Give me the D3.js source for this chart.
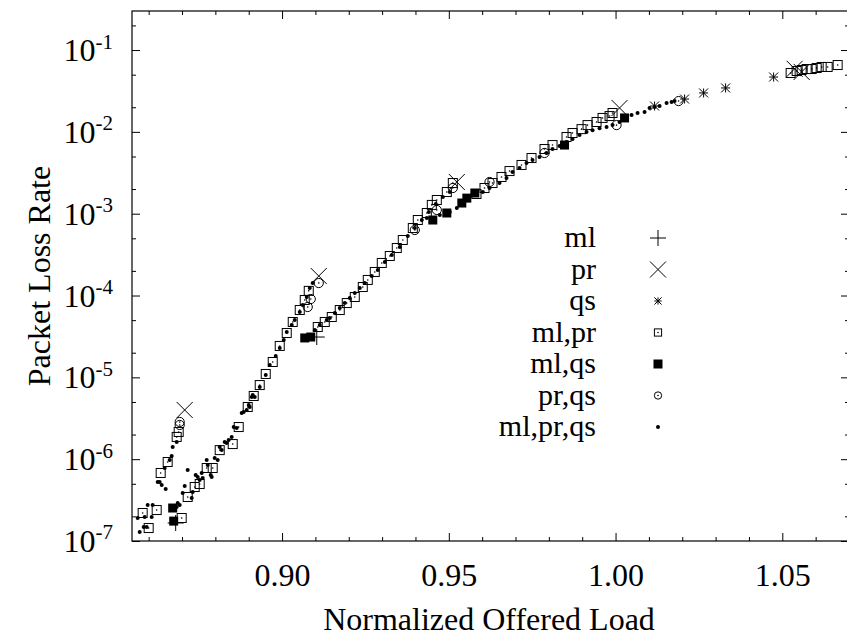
<!DOCTYPE html>
<html>
<head>
<meta charset="utf-8">
<script src="https://cdn.jsdelivr.net/npm/d3@7"></script>
<style>
  body { margin: 0; background: #fff; }
  svg { display: block; }
</style>
</head>
<body>
<div id="chart"></div>
<script>
const width = 847;
const height = 637;
const frame = { left: 132, right: 849, top: 11, bottom: 541 };
const fontSize = 32;
const keyFontSize = 30;
const serif = "Liberation Serif, Times New Roman, Times, DejaVu Serif, serif";

// axis ticks
const xMajor = [0.9, 0.95, 1.0, 1.05];
const xMinor = [0.86, 0.87, 0.88, 0.89, 0.91, 0.92, 0.93, 0.94, 0.96, 0.97, 0.98, 0.99, 1.01, 1.02, 1.03, 1.04, 1.06];
const xLabels = ["0.90", "0.95", "1.00", "1.05"];
const yMajor = [1e-7, 1e-6, 1e-5, 1e-4, 1e-3, 1e-2, 1e-1];
const yExp = ["-7", "-6", "-5", "-4", "-3", "-2", "-1"];
const yMinor = [2e-7, 5e-7, 2e-6, 5e-6, 2e-5, 5e-5, 2e-4, 5e-4, 2e-3, 5e-3, 2e-2, 5e-2, 2e-1];

// series, [offered load, loss rate]
const ml = [[0.8681, 1.66e-7], [0.9104, 3.11e-5]];
const pr = [[0.8708, 3.99e-6], [0.911, 1.73e-4], [0.9524, 2.44e-3], [1.0012, 1.96e-2], [1.0537, 5.9e-2], [1.0558, 5.4e-2]];
const qs = [[1.0117, 2.07e-2], [1.0207, 2.52e-2], [1.0264, 2.99e-2], [1.033, 3.44e-2], [1.0474, 4.68e-2]];
const mlPr = [
  [0.8582, 2.2e-7], [0.86, 1.44e-7], [0.8624, 2.39e-7], [0.8636, 6.78e-7], [0.8657, 9.23e-7], [0.8684, 1.87e-6], [0.869, 2.15e-6],
  [0.8699, 1.91e-7], [0.8717, 3.45e-7], [0.8738, 4.57e-7], [0.8753, 4.97e-7], [0.8774, 7.8e-7], [0.8792, 7.8e-7], [0.8813, 1.29e-6],
  [0.8852, 1.53e-6], [0.887, 2.47e-6], [0.8897, 4.34e-6],
  [0.8915, 5.92e-6], [0.8933, 8.05e-6], [0.8951, 1.1e-5], [0.8972, 1.54e-5], [0.8993, 2.42e-5], [0.9014, 3.48e-5],
  [0.9032, 4.75e-5], [0.9053, 6.65e-5], [0.9068, 8.81e-5], [0.908, 1.14e-4],
  [0.9107, 4.12e-5], [0.9128, 4.75e-5], [0.9149, 5.46e-5], [0.9173, 6.65e-5], [0.9194, 8.09e-5], [0.9218, 9.59e-5],
  [0.9242, 1.27e-4], [0.9257, 1.55e-4], [0.9278, 1.94e-4], [0.9299, 2.5e-4], [0.9323, 3.04e-4], [0.9344, 3.81e-4],
  [0.9362, 4.77e-4], [0.9392, 6.68e-4], [0.9407, 8.37e-4], [0.9434, 1.02e-3], [0.9449, 1.28e-3], [0.9464, 1.47e-3],
  [0.9494, 1.84e-3], [0.9512, 2.37e-3],
  [0.9583, 1.74e-3], [0.9607, 2.06e-3], [0.9631, 2.37e-3], [0.9658, 2.81e-3], [0.9682, 3.32e-3], [0.9718, 3.94e-3],
  [0.9748, 4.79e-3], [0.9787, 6.17e-3], [0.9811, 6.9e-3], [0.9853, 8.65e-3], [0.9871, 9.68e-3], [0.9898, 1.08e-2],
  [0.9916, 1.21e-2], [0.9943, 1.32e-2], [0.9961, 1.48e-2], [0.9982, 1.56e-2], [0.9991, 1.7e-2],
  [1.0525, 5.24e-2], [1.0543, 5.54e-2], [1.0558, 5.7e-2], [1.0573, 5.86e-2], [1.0588, 5.86e-2], [1.0603, 6.03e-2],
  [1.0618, 6.21e-2], [1.0636, 6.21e-2], [1.0666, 6.56e-2]
];
const mlQs = [[0.8672, 2.53e-7], [0.8675, 1.75e-7], [0.9068, 3.03e-5], [0.9086, 3.11e-5], [0.9452, 8.37e-4], [0.9494, 1.02e-3],
  [0.9539, 1.35e-3], [0.9554, 1.55e-3], [0.9578, 1.79e-3], [0.9847, 6.9e-3], [1.0027, 1.48e-2]];
const prQs = [[0.8693, 2.85e-6], [0.8693, 2.62e-6], [0.9077, 7.24e-5], [0.9086, 9.06e-5], [0.911, 1.42e-4], [0.9398, 6.32e-4],
  [0.9464, 1.11e-3], [0.9512, 2.06e-3], [0.9622, 2.44e-3], [0.9787, 5.52e-3], [1.0003, 1.21e-2], [1.0189, 2.38e-2]];
const mlPrQs = [
  [0.8567, 1.91e-7], [0.8573, 1.29e-7], [0.8585, 1.48e-7], [0.8588, 1.96e-7], [0.8594, 1.48e-7], [0.8597, 2.75e-7], [0.8609, 1.96e-7],
  [0.8612, 2.75e-7], [0.8627, 5.26e-7], [0.8633, 5.26e-7], [0.8639, 4.83e-7], [0.8651, 4.32e-7], [0.8648, 7.8e-7],
  [0.8663, 9.77e-7], [0.8669, 1.09e-6], [0.8672, 1.41e-6], [0.8684, 1.62e-6],
  [0.8684, 2.6e-7], [0.8687, 2.91e-7], [0.8693, 2.75e-7], [0.8702, 3.86e-7], [0.8708, 4.7e-7], [0.8717, 7.38e-7],
  [0.8729, 3.35e-7], [0.8732, 3.97e-7], [0.8741, 6.41e-7], [0.8747, 6.05e-7], [0.8753, 5.56e-7], [0.8759, 6.78e-7],
  [0.8762, 5.89e-7], [0.8774, 9.77e-7], [0.8777, 8.49e-7], [0.8786, 6.41e-7], [0.8789, 6.05e-7], [0.8798, 1.03e-6],
  [0.8807, 9.77e-7], [0.8813, 1.41e-6], [0.8819, 1.29e-6], [0.8828, 1.62e-6], [0.8834, 1.58e-6], [0.884, 1.71e-6],
  [0.8849, 1.87e-6], [0.8855, 2.47e-6], [0.8864, 2.4e-6], [0.8879, 3.66e-6], [0.8885, 3.77e-6], [0.8894, 3.99e-6],
  [0.89, 4.59e-6], [0.8909, 5.75e-6], [0.8912, 6.09e-6],
  [0.8903, 4.34e-6], [0.8918, 5.75e-6], [0.8933, 7.62e-6], [0.8951, 1.07e-5], [0.8963, 1.42e-5], [0.8981, 1.82e-5],
  [0.8993, 2.28e-5], [0.9005, 2.86e-5], [0.9014, 3.58e-5], [0.9029, 4.36e-5], [0.9038, 5.02e-5], [0.9053, 6.28e-5],
  [0.9062, 7.66e-5], [0.9074, 9.59e-5], [0.9083, 1.24e-4], [0.9092, 1.42e-4],
  [0.9098, 3.79e-5], [0.9113, 4.36e-5], [0.9134, 5.02e-5], [0.9143, 5.31e-5], [0.9158, 6.11e-5], [0.9173, 7.03e-5],
  [0.9188, 8.09e-5], [0.9203, 9.33e-5], [0.9218, 1.07e-4], [0.9233, 1.24e-4], [0.9248, 1.42e-4], [0.9269, 1.73e-4],
  [0.9287, 2.05e-4], [0.9308, 2.57e-4], [0.9329, 3.13e-4], [0.9353, 3.92e-4], [0.9377, 5.33e-4], [0.9398, 6.68e-4],
  [0.9419, 8.37e-4], [0.944, 1.05e-3], [0.9461, 1.31e-3], [0.9482, 1.6e-3], [0.9503, 1.84e-3],
  [0.9434, 8.85e-4], [0.9473, 9.64e-4], [0.9503, 1.05e-3], [0.9524, 1.17e-3], [0.9545, 1.35e-3], [0.9563, 1.6e-3],
  [0.9602, 1.84e-3], [0.9622, 2.06e-3], [0.9652, 2.37e-3], [0.9673, 2.73e-3], [0.9691, 3.23e-3], [0.9712, 3.61e-3],
  [0.9733, 4.16e-3], [0.9751, 4.53e-3], [0.9772, 4.93e-3], [0.9793, 5.52e-3], [0.9811, 6.17e-3], [0.9832, 6.71e-3],
  [0.9853, 7.51e-3], [0.9871, 8.18e-3], [0.9892, 9.15e-3], [0.9913, 9.96e-3], [0.9931, 1.05e-2], [0.9952, 1.11e-2],
  [0.9973, 1.15e-2], [0.9991, 1.21e-2], [1.0012, 1.32e-2], [1.003, 1.44e-2], [1.0048, 1.61e-2], [1.0066, 1.7e-2],
  [1.0087, 1.75e-2], [1.0102, 1.96e-2], [1.0117, 2.01e-2], [1.0132, 2.07e-2], [1.0153, 2.25e-2], [1.0168, 2.32e-2],
  [1.0177, 2.38e-2]
];

const seriesNames = ["ml", "pr", "qs", "ml,pr", "ml,qs", "pr,qs", "ml,pr,qs"];
const seriesData = [ml, pr, qs, mlPr, mlQs, prQs, mlPrQs];
const seriesMarks = ["plus", "cross", "star", "box", "fbox", "circ", "dot"];

const xScale = d3.scaleLinear().domain([0.855, 1.07]).range([frame.left, frame.right]);
const yScale = d3.scaleLog().domain([1e-7, 0.3]).range([frame.bottom, frame.top]);

const svg = d3.select("#chart").append("svg")
  .attr("width", width)
  .attr("height", height)
  .attr("font-family", serif);

// draws one marker at 0,0 into group g
function drawMark(g, kind, s) {
  const k = s || 1;
  if (kind === "plus") {
    g.append("path").attr("d", `M${-8 * k},0H${8 * k}M0,${-8 * k}V${8 * k}`)
      .attr("stroke", "#000").attr("fill", "none");
  } else if (kind === "cross") {
    g.append("path").attr("d", `M${-8 * k},${-8 * k}L${8 * k},${8 * k}M${-8 * k},${8 * k}L${8 * k},${-8 * k}`)
      .attr("stroke", "#000").attr("fill", "none");
  } else if (kind === "star") {
    const a = 4.5 * k;
    g.append("path").attr("d", `M${-a},0H${a}M0,${-a}V${a}M${-a},${-a}L${a},${a}M${-a},${a}L${a},${-a}`)
      .attr("stroke", "#000").attr("fill", "none");
  } else if (kind === "box") {
    g.append("rect").attr("x", -4.5 * k).attr("y", -4.5 * k).attr("width", 9 * k).attr("height", 9 * k)
      .attr("stroke", "#000").attr("fill", "none");
    g.append("circle").attr("r", 0.8).attr("fill", "#000");
  } else if (kind === "fbox") {
    g.append("rect").attr("x", -4.5 * k).attr("y", -4.5 * k).attr("width", 9 * k).attr("height", 9 * k)
      .attr("fill", "#000");
  } else if (kind === "circ") {
    g.append("circle").attr("r", 4.6 * k).attr("stroke", "#000").attr("fill", "none");
    g.append("circle").attr("r", 0.8).attr("fill", "#000");
  } else {
    g.append("circle").attr("r", 2 * k).attr("fill", "#000");
  }
}

// ticks on all four sides, pointing in
const axisG = svg.append("g");
const addAxis = (axis, tx, ty, cls) => {
  axisG.append("g").attr("class", cls)
    .attr("transform", `translate(${tx},${ty})`)
    .call(axis)
    .attr("font-family", serif)
    .attr("font-size", fontSize)
    .call((g) => g.select(".domain").remove())
    .call((g) => g.selectAll(".tick line").attr("stroke", "#000"))
    .call((g) => g.selectAll(".tick text").attr("fill", "#000"));
};

addAxis(d3.axisBottom(xScale).tickValues(xMajor).tickSizeInner(-8).tickSizeOuter(0)
  .tickPadding(22).tickFormat((d, i) => xLabels[i]), 0, frame.bottom, "x-major");
addAxis(d3.axisBottom(xScale).tickValues(xMinor).tickSizeInner(-4).tickSizeOuter(0).tickFormat(""), 0, frame.bottom, "x-minor");
addAxis(d3.axisTop(xScale).tickValues(xMajor).tickSizeInner(-8).tickSizeOuter(0).tickFormat(""), 0, frame.top, "x-top");
addAxis(d3.axisTop(xScale).tickValues(xMinor).tickSizeInner(-4).tickSizeOuter(0).tickFormat(""), 0, frame.top, "x-top-minor");
addAxis(d3.axisLeft(yScale).tickValues(yMajor).tickSizeInner(-8).tickSizeOuter(0)
  .tickPadding(19).tickFormat(() => "10"), frame.left, 0, "y-major");
addAxis(d3.axisLeft(yScale).tickValues(yMinor).tickSizeInner(-4).tickSizeOuter(0).tickFormat(""), frame.left, 0, "y-minor");
addAxis(d3.axisRight(yScale).tickValues(yMajor).tickSizeInner(-8).tickSizeOuter(0).tickFormat(""), frame.right, 0, "y-right");
addAxis(d3.axisRight(yScale).tickValues(yMinor).tickSizeInner(-4).tickSizeOuter(0).tickFormat(""), frame.right, 0, "y-right-minor");

axisG.selectAll(".y-major .tick text")
  .attr("dy", "0.33em")
  .each(function (d, i) {
    const t = d3.select(this);
    t.text("10");
    t.append("tspan").attr("font-size", 21).attr("dy", "-0.6em").text(yExp[i]);
  });

svg.append("rect")
  .attr("x", frame.left).attr("y", frame.top)
  .attr("width", frame.right - frame.left).attr("height", frame.bottom - frame.top)
  .attr("fill", "none").attr("stroke", "#000").attr("stroke-width", 1.2);

// points
const plot = svg.append("g");
seriesData.forEach((pts, si) => {
  plot.append("g").attr("class", "series-" + si)
    .selectAll("g")
    .data(pts)
    .join("g")
    .attr("transform", (d) => `translate(${xScale(d[0])},${yScale(d[1])})`)
    .each(function () { drawMark(d3.select(this), seriesMarks[si]); });
});

// key
const key = svg.append("g");
seriesNames.forEach((name, i) => {
  const cy = 238 + i * 31.5;
  key.append("text")
    .attr("x", 596).attr("y", cy + 9)
    .attr("text-anchor", "end")
    .attr("font-size", keyFontSize)
    .text(name);
  const g = key.append("g").attr("transform", `translate(658,${cy})`);
  drawMark(g, seriesMarks[i], seriesMarks[i] === "box" || seriesMarks[i] === "circ" || seriesMarks[i] === "star" ? 0.8 : 1);
});

// titles
svg.append("text")
  .attr("x", (frame.left + 846) / 2).attr("y", 630)
  .attr("text-anchor", "middle")
  .attr("font-size", fontSize)
  .text("Normalized Offered Load");

svg.append("text")
  .attr("transform", `translate(50,${(frame.top + frame.bottom) / 2}) rotate(-90)`)
  .attr("text-anchor", "middle")
  .attr("font-size", fontSize)
  .text("Packet Loss Rate");
</script>
</body>
</html>
